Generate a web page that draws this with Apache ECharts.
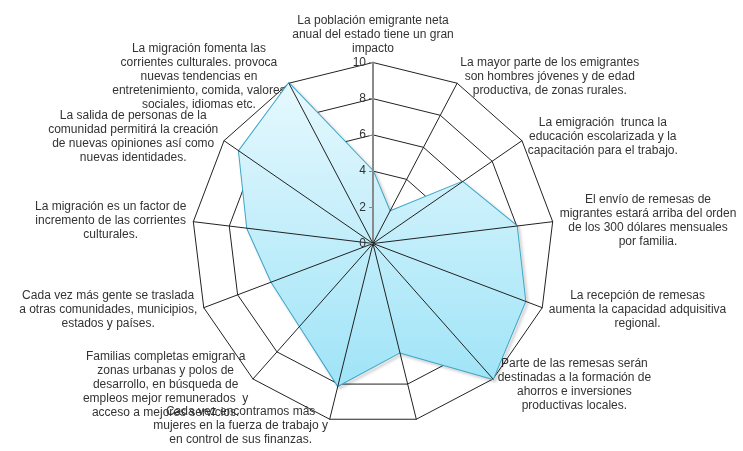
<!DOCTYPE html>
<html>
<head>
<meta charset="utf-8">
<script src="https://cdn.jsdelivr.net/npm/echarts@6/dist/echarts.min.js"></script>
<style>
  html, body { margin: 0; padding: 0; background: #fff; }
  #chart { width: 743px; height: 451px; }
</style>
</head>
<body>
<div id="chart"></div>
<script>
// categorías en orden horario, empezando arriba
const categorias = [
    'La población emigrante neta\nanual del estado tiene un gran\nimpacto',
    'La mayor parte de los emigrantes\nson hombres jóvenes y de edad\nproductiva, de zonas rurales.',
    'La emigración  trunca la\neducación escolarizada y la\ncapacitación para el trabajo.',
    'El envío de remesas de\nmigrantes estará arriba del orden\nde los 300 dólares mensuales\npor familia.',
    'La recepción de remesas\naumenta la capacidad adquisitiva\nregional.',
    'Parte de las remesas serán\ndestinadas a la formación de\nahorros e inversiones\nproductivas locales.',
    '',
    'Cada vez encontramos más\nmujeres en la fuerza de trabajo y\nen control de sus finanzas.',
    'Familias completas emigran a\nzonas urbanas y polos de\ndesarrollo, en búsqueda de\nempleos mejor remunerados  y\nacceso a mejores servicios.',
    'Cada vez más gente se traslada\na otras comunidades, municipios,\nestados y países.',
    'La migración es un factor de\nincremento de las corrientes\nculturales.',
    'La salida de personas de la\ncomunidad permitirá la creación\nde nuevas opiniones así como\nnuevas identidades.',
    'La migración fomenta las\ncorrientes culturales. provoca\nnuevas tendencias en\nentretenimiento, comida, valores\nsociales, idiomas etc.'
];

const valores = [4, 2, 6, 8, 9, 10, 6.2, 8.1, 6.1, 6, 7, 9, 10];

const escalaMax = 10;
const escalaPaso = 2;

// echarts coloca los ejes en sentido antihorario: invertir todo menos el primero
const orden = [0].concat(categorias.map((c, i) => i).slice(1).reverse());

const chart = echarts.init(document.getElementById('chart'));

const fuente = 'Liberation Sans, Arial, sans-serif';

function crearIndicadores(conEtiquetas) {
    return orden.map((i, k) => {
        const ind = { name: categorias[i], min: 0, max: escalaMax };
        if (k === 0 && conEtiquetas) {
            ind.axisLine = { lineStyle: { color: '#8a8a8a', width: 2 } };
            ind.axisTick = { show: true, length: 4, lineStyle: { color: '#8a8a8a' } };
            ind.axisLabel = { show: true, color: '#333', fontSize: 12, margin: 7, fontFamily: fuente };
        }
        return ind;
    });
}

const comun = {
    center: [373, 243.5],
    radius: 181,
    startAngle: 90,
    shape: 'polygon',
    splitNumber: escalaMax / escalaPaso,
    nameGap: 7,
    axisTick: { show: false },
    axisLabel: { show: false },
    splitArea: { show: false }
};

const option = {
    animation: false,
    radar: [
        // anillos y nombres, debajo del área
        Object.assign({}, comun, {
            z: 0,
            axisName: {
                color: '#333',
                fontSize: 12,
                lineHeight: 14,
                fontFamily: fuente,
                formatter: function (txt) {
                    if (!txt) return '';
                    return txt.split('\n').map(l => '{c|' + l + '}').join('\n');
                },
                rich: {
                    c: { align: 'center', color: '#333', fontSize: 12, lineHeight: 14, fontFamily: fuente }
                }
            },
            axisLine: { show: false },
            splitLine: { lineStyle: { color: '#222', width: 1 } },
            indicator: crearIndicadores(false)
        }),
        // radios y escala, encima del área
        Object.assign({}, comun, {
            z: 5,
            axisName: { show: false },
            axisLine: { lineStyle: { color: '#222', width: 1 } },
            splitLine: { show: false },
            indicator: crearIndicadores(true)
        })
    ],
    series: [{
        type: 'radar',
        radarIndex: 0,
        symbol: 'none',
        z: 2,
        lineStyle: {
            color: '#3ea5c8',
            width: 2,
            shadowColor: 'rgba(0,0,0,0.25)',
            shadowBlur: 3,
            shadowOffsetX: 2,
            shadowOffsetY: 2
        },
        areaStyle: {
            opacity: 1,
            color: new echarts.graphic.LinearGradient(0, 0, 0, 1, [
                { offset: 0, color: '#e6f8fe' },
                { offset: 1, color: '#9fe4f7' }
            ])
        },
        data: [{ value: orden.map(i => valores[i]) }]
    }]
};

chart.setOption(option);
</script>
</body>
</html>
